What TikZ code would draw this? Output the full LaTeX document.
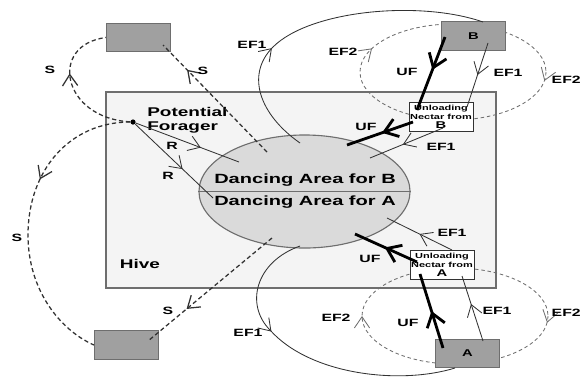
\documentclass[tikz,border=0pt]{standalone}
\usepackage{fontspec}
\newfontfamily\widesans[FakeStretch=1.5]{Liberation Sans}
\usetikzlibrary{arrows.meta,positioning,shapes.geometric,decorations.markings}
\definecolor{hivebg}{RGB}{244,244,244}
\definecolor{dancebg}{RGB}{218,218,218}
\definecolor{srcbg}{RGB}{160,160,160}
\definecolor{edgegray}{RGB}{110,110,110}
\definecolor{inkgray}{RGB}{50,50,50}

\begin{document}
\begin{tikzpicture}[x=0.025cm, y=-0.025cm,
  src/.style={draw=edgegray, line width=0.8pt, fill=srcbg, minimum width=1.6cm, minimum height=0.72cm, inner sep=0pt},
  unload/.style={draw=inkgray, line width=0.6pt, fill=white, minimum width=1.6cm, minimum height=0.725cm,
                 inner sep=0pt, align=center, font=\widesans\bfseries\fontsize{5.2}{6.4}\selectfont},
  lab/.style={font=\widesans\bfseries\fontsize{7.5}{8}\selectfont, inner sep=0pt},
  big/.style={font=\widesans\bfseries\fontsize{9}{10}\selectfont, inner sep=0pt},
  thinln/.style={draw=inkgray, line width=0.6pt},
  thickln/.style={draw=black, line width=2pt},
  scout/.style={draw=inkgray, line width=0.9pt, dash pattern=on 3pt off 2pt},
  loopln/.style={draw=edgegray, line width=0.6pt, dash pattern=on 2.5pt off 2pt},
  chev/.style={postaction={decorate}, decoration={markings,
               mark=at position #1 with {\arrow{Straight Barb[length=2.8mm,width=3.8mm]}}}},
  uchev/.style={postaction={decorate}, decoration={markings,
               mark=at position #1 with {\arrow{Straight Barb[length=3.2mm,width=4.6mm]}}}}]
  \useasboundingbox (0,0) rectangle (582,376);

  % hive and dancing area
  \node[draw=edgegray, line width=1pt, fill=hivebg, minimum width=9.75cm, minimum height=4.9cm] (hive) at (301,190) {};
  \node[big] (hivelab) at (140,264) {Hive};

  % EF2 loops
  \draw[loopln, postaction={decorate}, decoration={markings,
        mark=at position 0.02 with {\arrow{Straight Barb[length=2.8mm,width=3.8mm]}},
        mark=at position 0.56 with {\arrow{Straight Barb[length=2.8mm,width=3.8mm]}}}]
    (453,72) ellipse [x radius=93, y radius=48];
  \draw[loopln, postaction={decorate}, decoration={markings,
        mark=at position 0.015 with {\arrow{Straight Barb[length=2.8mm,width=3.8mm]}},
        mark=at position 0.5 with {\arrow{Straight Barb[length=2.8mm,width=3.8mm]}}}]
    (455,316) ellipse [x radius=93, y radius=48];

  \node[ellipse, draw=edgegray, line width=0.8pt, fill=dancebg, minimum width=5.275cm, minimum height=2.825cm,
        inner sep=0pt] (dance) at (304.5,191.5) {};
  \draw[edgegray, line width=0.8pt] (dance.west) -- (dance.east);
  \node[font=\widesans\bfseries\fontsize{9.5}{10}\selectfont] (dB) at (305,180) {Dancing Area for B};
  \node[font=\widesans\bfseries\fontsize{9.5}{10}\selectfont] (dA) at (305,202) {Dancing Area for A};

  % food sources and unloading places
  \node[src] (tl) at (138.5,37.5) {};
  \node[src] (bl) at (126.5,345) {};
  \node[src, font=\widesans\bfseries\fontsize{7}{8}\selectfont] (B) at (473.5,36) {B};
  \node[src, font=\widesans\bfseries\fontsize{7}{8}\selectfont] (A) at (467.5,353.5) {A};
  \node[unload] (ub) at (441,116.5) {Unloading\\Nectar from\\{\fontsize{7}{7}\selectfont B}};
  \node[unload] (ua) at (442,264.5) {Unloading\\Nectar from\\{\fontsize{7}{7}\selectfont A}};

  % potential forager
  \node[circle, fill=black, inner sep=0pt, minimum size=0.13cm] (pf) at (133,122) {};
  \node[big, align=left, anchor=west] (pflab) at (147,120) {Potential\\Forager};

  \coordinate (r1) at (239,162);
  \coordinate (r2) at (213,198);
  \coordinate (s1) at (267,152); \coordinate (s1e) at (163,45);
  \coordinate (s4) at (272,238); \coordinate (s4e) at (148,341);
  \coordinate (eft) at (300,143); \coordinate (efte) at (483,22);
  \coordinate (efb) at (300,246); \coordinate (efbe) at (455,368);
  \coordinate (ufB1) at (445,37);  \coordinate (ufB2) at (417,110);
  \coordinate (ufB3) at (413,122); \coordinate (ufB4) at (347,145);
  \coordinate (ufA1) at (443,348); \coordinate (ufA2) at (420,274);
  \coordinate (ufA3) at (417,262); \coordinate (ufA4) at (355,234);
  \coordinate (efB1) at (488,43);  \coordinate (efB2) at (467,107);
  \coordinate (efB3) at (443,128); \coordinate (efB4) at (370,158);
  \coordinate (efA1) at (483,341); \coordinate (efA2) at (462,276);
  \coordinate (efA3) at (452,250); \coordinate (efA4) at (387,218);

  % recruits
  \draw[thinln, chev=0.63] (pf) -- (r1);
  \draw[thinln, chev=0.61] (pf) -- (r2);
  % scouts
  \draw[scout, chev=0.77] (s1) -- (s1e);
  \draw[scout, chev=0.6] (pf) .. controls (62,118) and (48,45) .. (tl.west);
  \draw[scout, chev=0.37] (pf) .. controls (70,122) and (28,170) .. (28,235) .. controls (28,290) and (60,330) .. (bl.west);
  \draw[scout, chev=0.69] (s4) -- (s4e);
  % employed foragers
  \draw[thinln, chev=0.34] (eft) .. controls (260,115) and (245,75) .. (273,47) .. controls (310,10) and (420,0) .. (efte);
  \draw[thinln, chev=0.36] (efb) .. controls (255,262) and (245,305) .. (270,330) .. controls (310,375) and (400,385) .. (efbe);
  \draw[thinln, chev=0.5] (efB1) -- (efB2);
  \draw[thinln, chev=0.55] (efB3) -- (efB4);
  \draw[thinln, chev=0.57] (efA1) -- (efA2);
  \draw[thinln, chev=0.5] (efA3) -- (efA4);
  % unloading foragers
  \draw[thickln, uchev=0.45] (ufB1) -- (ufB2);
  \draw[thickln, uchev=0.47] (ufB3) -- (ufB4);
  \draw[thickln, uchev=0.5] (ufA1) -- (ufA2);
  \draw[thickln, uchev=0.52] (ufA3) -- (ufA4);

  % labels
  \node[lab] (lr1) at (172,146) {R};
  \node[lab] (lr2) at (168,176) {R};
  \node[lab] (ls1) at (50,70) {S};
  \node[lab] (ls2) at (203,71) {S};
  \node[lab] (ls3) at (17,238) {S};
  \node[lab] (ls4) at (168,311) {S};
  \node[lab] (le1) at (252,45) {EF1};
  \node[lab] (le2) at (248,333) {EF1};
  \node[lab] (le3) at (508,73) {EF1};
  \node[lab] (le4) at (441,147) {EF1};
  \node[lab] (le5) at (497,311) {EF1};
  \node[lab] (le6) at (452,233) {EF1};
  \node[lab] (lf1) at (343,52) {EF2};
  \node[lab, anchor=east] (lf2) at (581,80) {EF2};
  \node[lab] (lf3) at (336,318) {EF2};
  \node[lab, anchor=east] (lf4) at (581,313) {EF2};
  \node[lab] (lu1) at (407,72) {UF};
  \node[lab] (lu2) at (366,127) {UF};
  \node[lab] (lu3) at (408,323) {UF};
  \node[lab] (lu4) at (370,259) {UF};
\end{tikzpicture}
\end{document}
